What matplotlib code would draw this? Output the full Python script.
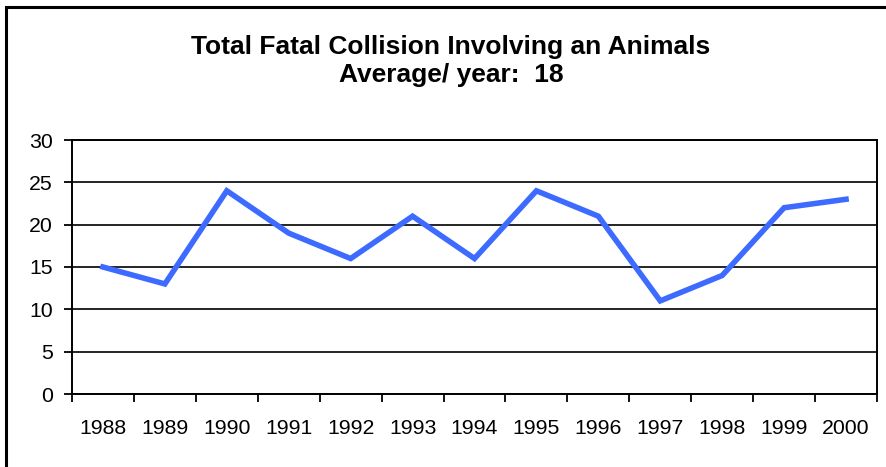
import matplotlib.pyplot as plt
from matplotlib.patches import Rectangle
import numpy as np

years = ["1988", "1989", "1990", "1991", "1992", "1993", "1994",
         "1995", "1996", "1997", "1998", "1999", "2000"]
collisions = [15, 13, 24, 19, 16, 21, 16, 24, 21, 11, 14, 22, 23]
title_txt = "Total Fatal Collision Involving an Animals\nAverage/ year:  18"

plt.rcParams["font.family"] = ["Liberation Sans", "DejaVu Sans"]

W, H = 887, 467
fig = plt.figure(figsize=(W / 100, H / 100), dpi=100)
ax = fig.add_axes([72 / W, 1 - 394 / H, (877 - 72) / W, (394 - 140) / H])

x = np.arange(len(years))
ax.plot(x, collisions, color="#3d6bff", lw=4.0, solid_joinstyle="miter", zorder=3)

ax.set_xlim(-0.5, len(years) - 0.5)
ax.set_ylim(0, 30)
ax.set_yticks(range(0, 31, 5))
ax.yaxis.grid(True, color="black", lw=1.2)
ax.set_axisbelow(True)

# category labels in the middle, tick marks between categories (Excel style)
ax.set_xticks(x)
ax.set_xticklabels(years)
ax.set_xticks(np.arange(-0.5, len(years), 1), minor=True)
ax.tick_params(axis="x", which="major", length=0, pad=18, labelsize=15.3)
ax.tick_params(axis="x", which="minor", length=6, width=1.3, direction="out")
ax.tick_params(axis="y", length=6, width=1.3, pad=8, labelsize=15.3)

for s in ax.spines.values():
    s.set_linewidth(1.4)
    s.set_color("black")

fig.text(451 / W, 1 - 61 / H, title_txt, ha="center", va="center",
         fontsize=19, fontweight="bold", linespacing=1.25)

# outer chart border
fig.patches.append(Rectangle((6 / W, -0.1), 1.2, 1.1 - 7 / H, transform=fig.transFigure,
                             fill=False, edgecolor="black", lw=2.2))

fig.savefig("out.png", dpi=100)
